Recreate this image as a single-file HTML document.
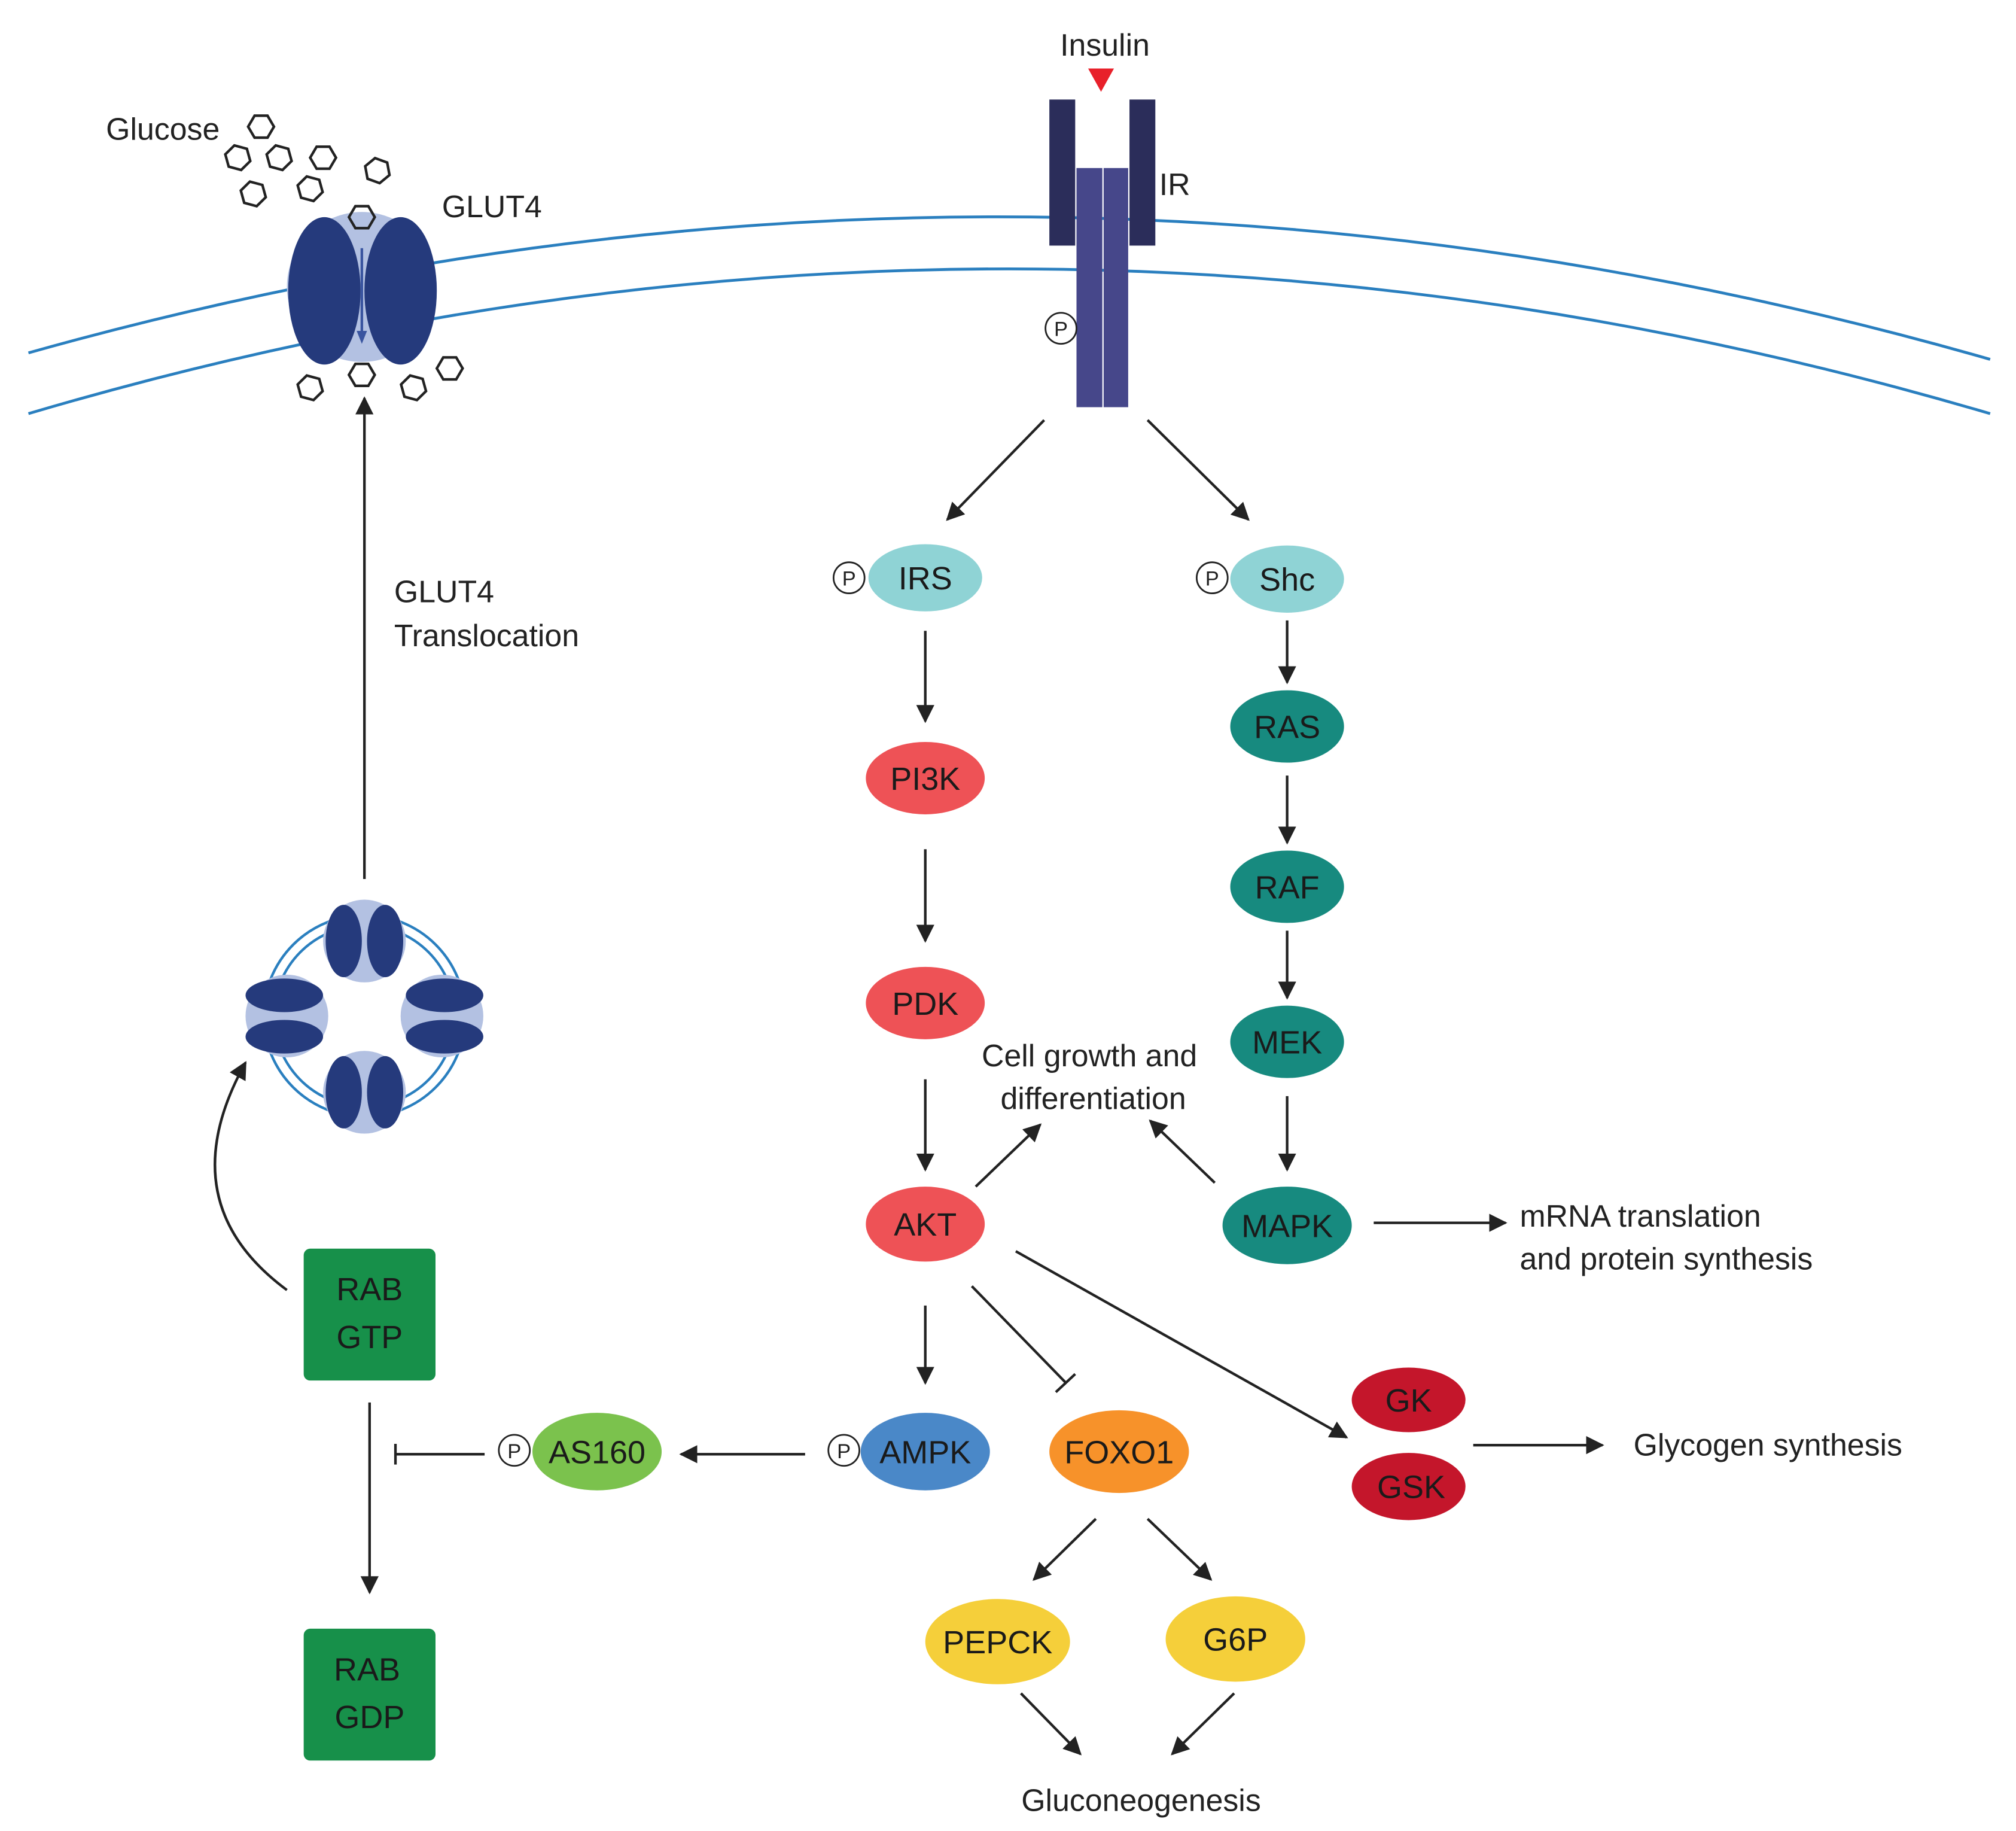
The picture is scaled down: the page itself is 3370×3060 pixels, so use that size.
<!DOCTYPE html>
<html><head><meta charset="utf-8"><style>html,body{margin:0;padding:0;background:#fff}svg{display:block}</style></head>
<body>
<svg width="3370" height="3060" viewBox="0 0 1560 1416.5" preserveAspectRatio="none" xmlns="http://www.w3.org/2000/svg" font-family="Liberation Sans, sans-serif">
<defs>
<marker id="ab" viewBox="0 0 10 10" refX="9" refY="5" markerWidth="14" markerHeight="14" markerUnits="userSpaceOnUse" orient="auto"><path d="M0,0 L10,5 L0,10 z" fill="#222"/></marker>
</defs>
<g fill="none" stroke="#2a7fbf" stroke-width="2.2">
<path d="M22,273 Q780,60 1540,278"/>
<path d="M22,320 Q780,96 1540,320"/>
</g>
<!-- GLUT4 transporter -->
<circle cx="280" cy="222" r="58" fill="#b3c1e2"/>
<ellipse cx="251" cy="225" rx="28" ry="57" fill="#253a7c"/>
<ellipse cx="310" cy="225" rx="28" ry="57" fill="#253a7c"/>
<line x1="280" y1="192" x2="280" y2="262" stroke="#3a55a0" stroke-width="2"/>
<path d="M276,256 L280,266 L284,256 z" fill="#3a55a0"/>
<g fill="none" stroke="#222" stroke-width="2">
<polygon points="-10,0 -5,-8.5 5,-8.5 10,0 5,8.5 -5,8.5" transform="translate(202,98)"/>
<polygon points="-10,0 -5,-8.5 5,-8.5 10,0 5,8.5 -5,8.5" transform="translate(184,122) rotate(15)"/>
<polygon points="-10,0 -5,-8.5 5,-8.5 10,0 5,8.5 -5,8.5" transform="translate(216,122) rotate(15)"/>
<polygon points="-10,0 -5,-8.5 5,-8.5 10,0 5,8.5 -5,8.5" transform="translate(250,122)"/>
<polygon points="-10,0 -5,-8.5 5,-8.5 10,0 5,8.5 -5,8.5" transform="translate(292,132) rotate(20)"/>
<polygon points="-10,0 -5,-8.5 5,-8.5 10,0 5,8.5 -5,8.5" transform="translate(196,150) rotate(15)"/>
<polygon points="-10,0 -5,-8.5 5,-8.5 10,0 5,8.5 -5,8.5" transform="translate(240,146) rotate(15)"/>
<polygon points="-10,0 -5,-8.5 5,-8.5 10,0 5,8.5 -5,8.5" transform="translate(280,168)"/>
<polygon points="-10,0 -5,-8.5 5,-8.5 10,0 5,8.5 -5,8.5" transform="translate(240,300) rotate(15)"/>
<polygon points="-10,0 -5,-8.5 5,-8.5 10,0 5,8.5 -5,8.5" transform="translate(280,290)"/>
<polygon points="-10,0 -5,-8.5 5,-8.5 10,0 5,8.5 -5,8.5" transform="translate(320,300) rotate(15)"/>
<polygon points="-10,0 -5,-8.5 5,-8.5 10,0 5,8.5 -5,8.5" transform="translate(348,285)"/>
</g>
<!-- IR -->
<rect x="812" y="77" width="20" height="113" fill="#2b2d5a"/>
<rect x="874" y="77" width="20" height="113" fill="#2b2d5a"/>
<rect x="833" y="130" width="20" height="185" fill="#46478a"/>
<rect x="854" y="130" width="19" height="185" fill="#46478a"/>
<path d="M842,53 L862,53 L852,71 z" fill="#e8202a"/>
<g font-size="24" fill="#222">
<text x="855" y="43" text-anchor="middle">Insulin</text>
<text x="897" y="151">IR</text>
<text x="82" y="108">Glucose</text>
<text x="342" y="168">GLUT4</text>
<text x="305" y="466">GLUT4</text>
<text x="305" y="500">Translocation</text>
<text x="843" y="825" text-anchor="middle">Cell growth and</text>
<text x="846" y="858" text-anchor="middle">differentiation</text>
<text x="1176" y="949">mRNA translation</text>
<text x="1176" y="982">and protein synthesis</text>
<text x="1264" y="1126">Glycogen synthesis</text>
<text x="883" y="1401" text-anchor="middle">Gluconeogenesis</text>
</g>
<g fill="#fff" stroke="#222" stroke-width="1.3">
<circle cx="821" cy="254" r="12"/><circle cx="657" cy="447" r="12"/><circle cx="938" cy="447" r="12"/>
<circle cx="653" cy="1122" r="12"/><circle cx="398" cy="1122" r="12"/>
</g>
<g font-size="16" fill="#222" text-anchor="middle">
<text x="821" y="260">P</text><text x="657" y="453">P</text><text x="938" y="453">P</text><text x="653" y="1128">P</text><text x="398" y="1128">P</text>
</g>
<g stroke="#222" stroke-width="2" fill="none" marker-end="url(#ab)">
<line x1="808" y1="325" x2="733" y2="402"/>
<line x1="888" y1="325" x2="966" y2="402"/>
<line x1="716" y1="488" x2="716" y2="558"/>
<line x1="716" y1="657" x2="716" y2="728"/>
<line x1="716" y1="835" x2="716" y2="905"/>
<line x1="996" y1="480" x2="996" y2="528"/>
<line x1="996" y1="600" x2="996" y2="652"/>
<line x1="996" y1="720" x2="996" y2="772"/>
<line x1="996" y1="848" x2="996" y2="905"/>
<line x1="755" y1="918" x2="805" y2="870"/>
<line x1="940" y1="915" x2="890" y2="867"/>
<line x1="1063" y1="946" x2="1165" y2="946"/>
<line x1="716" y1="1010" x2="716" y2="1070"/>
<line x1="786" y1="968" x2="1042" y2="1112"/>
<line x1="1140" y1="1118" x2="1240" y2="1118"/>
<line x1="848" y1="1175" x2="800" y2="1222"/>
<line x1="888" y1="1175" x2="937" y2="1222"/>
<line x1="790" y1="1310" x2="836" y2="1357"/>
<line x1="955" y1="1310" x2="907" y2="1357"/>
<line x1="623" y1="1125" x2="527" y2="1125"/>
<line x1="286" y1="1085" x2="286" y2="1232"/>
<line x1="282" y1="680" x2="282" y2="308"/>
<path d="M222,998 Q130,930 190,822"/>
</g>
<g stroke="#222" stroke-width="2" fill="none">
<line x1="752" y1="995" x2="825" y2="1070"/>
<line x1="817" y1="1077" x2="832" y2="1063"/>
<line x1="375" y1="1125" x2="306" y2="1125"/>
<line x1="306" y1="1117" x2="306" y2="1133"/>
</g>
<circle cx="282" cy="786" r="78" fill="none" stroke="#2a7fbf" stroke-width="2"/>
<circle cx="282" cy="786" r="70" fill="none" stroke="#2a7fbf" stroke-width="2"/>
<g fill="#b3c1e2">
<circle cx="282" cy="728" r="32"/><circle cx="282" cy="845" r="32"/><circle cx="222" cy="786" r="32"/><circle cx="342" cy="786" r="32"/>
</g>
<g fill="#253a7c">
<ellipse cx="266" cy="728" rx="14" ry="28"/><ellipse cx="298" cy="728" rx="14" ry="28"/>
<ellipse cx="266" cy="845" rx="14" ry="28"/><ellipse cx="298" cy="845" rx="14" ry="28"/>
<ellipse cx="220" cy="770" rx="30" ry="13"/><ellipse cx="220" cy="802" rx="30" ry="13"/>
<ellipse cx="344" cy="770" rx="30" ry="13"/><ellipse cx="344" cy="802" rx="30" ry="13"/>
</g>
<ellipse cx="716" cy="447" rx="44" ry="26" fill="#8fd3d5"/>
<ellipse cx="996" cy="448" rx="44" ry="26" fill="#8fd3d5"/>
<ellipse cx="716" cy="602" rx="46" ry="28" fill="#ee5256"/>
<ellipse cx="716" cy="776" rx="46" ry="28" fill="#ee5256"/>
<ellipse cx="716" cy="947" rx="46" ry="29" fill="#ee5256"/>
<ellipse cx="996" cy="562" rx="44" ry="28" fill="#178a7f"/>
<ellipse cx="996" cy="686" rx="44" ry="28" fill="#178a7f"/>
<ellipse cx="996" cy="806" rx="44" ry="28" fill="#178a7f"/>
<ellipse cx="996" cy="948" rx="50" ry="30" fill="#178a7f"/>
<ellipse cx="716" cy="1123" rx="50" ry="30" fill="#4a88c8"/>
<ellipse cx="866" cy="1123" rx="54" ry="32" fill="#f7922a"/>
<ellipse cx="1090" cy="1083" rx="44" ry="25" fill="#c4162b"/>
<ellipse cx="1090" cy="1150" rx="44" ry="26" fill="#c4162b"/>
<ellipse cx="772" cy="1270" rx="56" ry="33" fill="#f5cf3a"/>
<ellipse cx="956" cy="1268" rx="54" ry="33" fill="#f5cf3a"/>
<ellipse cx="462" cy="1123" rx="50" ry="30" fill="#7bc24d"/>
<rect x="235" y="966" width="102" height="102" rx="5" fill="#17904a"/>
<rect x="235" y="1260" width="102" height="102" rx="5" fill="#17904a"/>
<g font-size="25" fill="#1a1a1a" text-anchor="middle">
<text x="716" y="456">IRS</text><text x="996" y="457">Shc</text>
<text x="716" y="611">PI3K</text><text x="716" y="785">PDK</text><text x="716" y="956">AKT</text>
<text x="996" y="571">RAS</text><text x="996" y="695">RAF</text><text x="996" y="815">MEK</text><text x="996" y="957">MAPK</text>
<text x="716" y="1132">AMPK</text><text x="866" y="1132">FOXO1</text>
<text x="1090" y="1092">GK</text><text x="1092" y="1159">GSK</text>
<text x="772" y="1279">PEPCK</text><text x="956" y="1277">G6P</text>
<text x="462" y="1132">AS160</text>
<text x="286" y="1006">RAB</text><text x="286" y="1043">GTP</text>
<text x="284" y="1300">RAB</text><text x="286" y="1337">GDP</text>
</g>
</svg>
</body></html>
